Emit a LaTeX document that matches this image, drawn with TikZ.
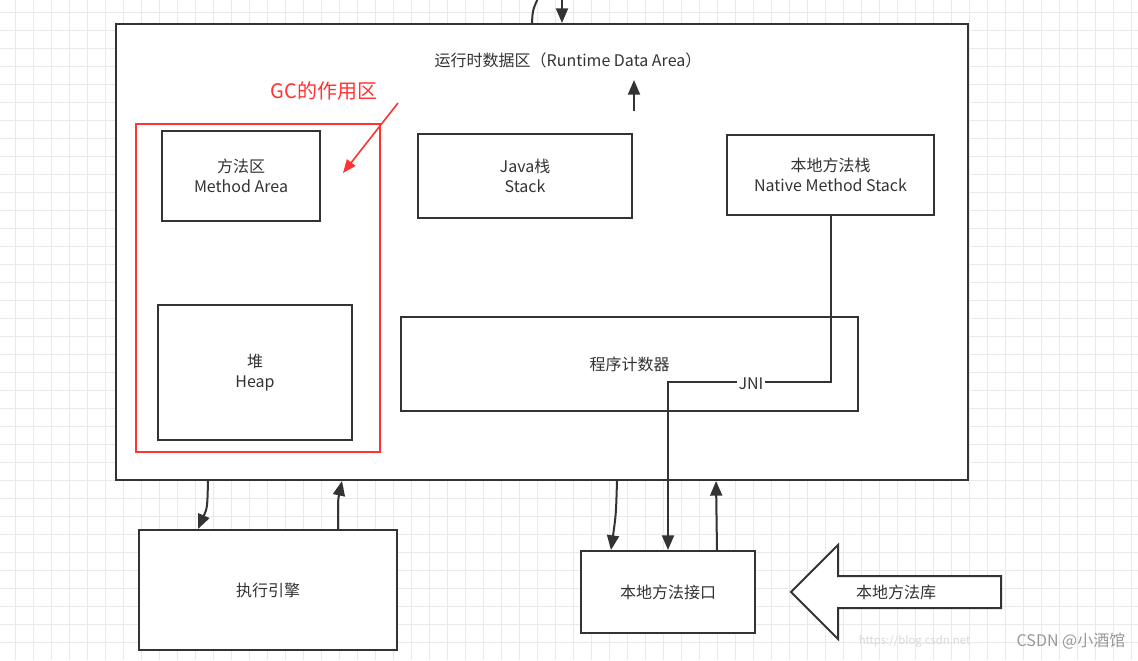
\documentclass[tikz,border=0pt]{standalone}
\usepackage{fontspec}
\setmainfont{Noto Sans CJK SC}
\usepackage{tikz}
\usetikzlibrary{arrows.meta}
\definecolor{linegray}{HTML}{333333}
\definecolor{gridgray}{HTML}{E9E9E9}
\definecolor{gcred}{HTML}{FF3333}

\begin{document}
\begin{tikzpicture}[x = 0.75pt, y = -0.75pt,
        box/.style = {draw = linegray, line width = 1.5pt, fill = white, align = center,
            text = linegray, font = \fontsize{12}{14.5}\selectfont},
        arr/.style = {draw = linegray, line width = 1.5pt, -{Triangle[width = 9pt, length = 11pt]}},
        lbl/.style = {text = linegray, font = \fontsize{12}{14.5}\selectfont}]
    \useasboundingbox (0,0) rectangle (1138,660);
    \fill[white] (0,0) rectangle (1138,660);
    \foreach \x in {15,33,...,1137} \draw[gridgray, line width = 0.6pt] (\x,0) -- (\x,660);
    \foreach \y in {12,30,...,659} \draw[gridgray, line width = 0.6pt] (0,\y) -- (1138,\y);

    \node[box, minimum width = 639pt, minimum height = 342pt] (rda) at (542,252) {};
    \node[lbl] (rdatitle) at (568,60) {运行时数据区（Runtime Data Area）};
    \node[box, minimum width = 118.5pt, minimum height = 67.5pt] (method) at (241,176) {方法区\\Method Area};
    \node[box, minimum width = 160.5pt, minimum height = 63pt] (stack) at (525,176) {Java栈\\Stack};
    \node[box, minimum width = 155.25pt, minimum height = 60pt] (nms) at (830.5,175) {本地方法栈\\Native Method Stack};
    \node[box, minimum width = 145.5pt, minimum height = 101.25pt] (heap) at (255,372.5) {堆\\Heap};
    \node[box, minimum width = 342.75pt, minimum height = 70.5pt] (pc) at (629.5,364) {程序计数器};
    \node[box, minimum width = 193.5pt, minimum height = 90pt] (engine) at (268,590) {执行引擎};
    \node[box, minimum width = 130.5pt, minimum height = 61.5pt] (jni) at (668,592) {本地方法接口};

    \node[draw = gcred, line width = 1.5pt, minimum width = 183pt, minimum height = 246pt] (gczone) at (258,288) {};
    \node[text = gcred, font = \fontsize{15}{18}\selectfont] (gclabel) at (324,91) {GC的作用区};
    \coordinate (gcfrom) at (398,103);
    \coordinate (gcto) at (343,173);
    \draw[gcred, line width = 1.2pt, -{Triangle[width = 8pt, length = 10pt]}] (gcfrom) -- (gcto);

    \coordinate (upfrom) at (634,111);
    \coordinate (upto) at (634,80);
    \draw[arr] (upfrom) -- (upto);

    \coordinate (topin) at (562,-6);
    \coordinate (topout) at (540,-6);
    \draw[arr] (topin) -- (rda.north -| topin);
    \draw[linegray, line width = 1.5pt] ([xshift = -7.5pt]rda.north) .. controls ([xshift = -7pt, yshift = 10pt]rda.north) .. (topout);

    \draw[arr] ([xshift = -250.5pt]rda.south) .. controls ([xshift = -251pt, yshift = -20pt]rda.south) .. ([xshift = -52.5pt]engine.north);
    \draw[arr] ([xshift = 52.5pt]engine.north) .. controls ([xshift = 52.5pt, yshift = 22pt]engine.north) .. ([xshift = -150pt]rda.south);
    \draw[arr] ([xshift = 56.25pt]rda.south) .. controls ([xshift = 55.5pt, yshift = -25pt]rda.south) .. ([xshift = -42.75pt]jni.north);
    \draw[arr] ([xshift = 36.75pt]jni.north) -- ([xshift = 130.5pt]rda.south);

    \coordinate (jnibend) at (668,382);
    \draw[arr] (nms.south) -- (nms.south |- jnibend) -| (jni.north);
    \node[lbl, fill = white, inner sep = 1.5pt] (jnitext) at (751,384) {JNI};

    \draw[linegray, line width = 1.5pt, fill = white] (791,592) -- (838,545) -- (838,576) -- (1001,576)
        -- (1001,608) -- (838,608) -- (838,639) -- cycle;
    \node[lbl] (nlib) at (896,592) {本地方法库};

    \node[text = gray!30, font = \fontsize{8.5}{10}\selectfont, anchor = east] (wmurl) at (975,641) {https://blog.csdn.net};
    \node[text = gray!80, font = \fontsize{12}{14}\selectfont, anchor = east] (wmname) at (1130,641) {CSDN @小酒馆};
\end{tikzpicture}
\end{document}
